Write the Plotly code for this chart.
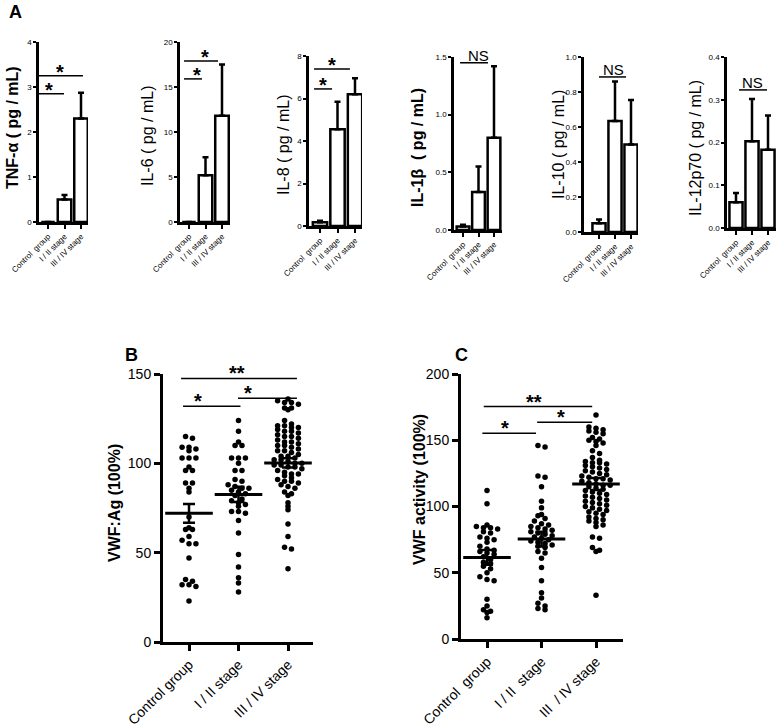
import plotly.graph_objects as go

W, H = 776, 728
FONT = "Arial, Liberation Sans, sans-serif"

# ---- panel A: cytokines, bar = mean, error = upper error only
groups_a = ["Control  group", "I / II stage", "III / IV stage"]
cyto_titles = ["TNF-α ( pg / mL)", "IL-6 ( pg / mL)", "IL-8 ( pg / mL)",
               "IL-1β  ( pg / mL)", "IL-10 ( pg / mL)", "IL-12p70 ( pg / mL)"]
cyto_bold = [True, False, False, True, False, False]
tnf_mean = [0, 0.5, 2.3]
tnf_err = [0, 0.1, 0.57]
il6_mean = [0, 5.2, 11.8]
il6_err = [0, 2.0, 5.7]
il8_mean = [0.18, 4.55, 6.2]
il8_err = [0.07, 1.3, 0.75]
il1b_mean = [0.03, 0.33, 0.8]
il1b_err = [0.015, 0.22, 0.62]
il10_mean = [0.05, 0.635, 0.5]
il10_err = [0.022, 0.225, 0.255]
il12_mean = [0.06, 0.203, 0.183]
il12_err = [0.022, 0.099, 0.08]
cyto_ticks = [[0, 1, 2, 3, 4], [0, 5, 10, 15, 20], [0, 2, 4, 6, 8],
              [0.0, 0.5, 1.0, 1.5], [0.0, 0.2, 0.4, 0.6, 0.8, 1.0],
              [0.0, 0.1, 0.2, 0.3, 0.4]]
cyto_ticktext = [["0", "1", "2", "3", "4"], ["0", "5", "10", "15", "20"],
                 ["0", "2", "4", "6", "8"], ["0.0", "0.5", "1.0", "1.5"],
                 ["0.0", "0.2", "0.4", "0.6", "0.8", "1.0"],
                 ["0.0", "0.1", "0.2", "0.3", "0.4"]]
# significance brackets: (x0, x1, y, label, label x)
cyto_sig = [
    [(-0.55, 0.97, 2.85, "*", 0.06), (-0.55, 2.12, 3.25, "*", 0.73)],
    [(-0.3, 0.79, 15.9, "*", 0.48), (-0.3, 1.76, 17.9, "*", 0.97)],
    [(-0.34, 0.69, 6.45, "*", 0.17), (-0.34, 1.71, 7.39, "*", 0.69)],
    [(-0.19, 1.61, 1.45, "NS", 0.97)],
    [(0.0, 1.69, 0.886, "NS", 0.88)],
    [(0.19, 1.94, 0.323, "NS", 1.06)],
]

# ---- panel B: VWF:Ag
groups_b = ["Control group", "I / II stage", "III / IV stage"]
vwf_ag_ctrl = [115, 114, 109, 109, 108, 107, 103, 103, 103, 98, 96, 96, 89, 89,
               86, 84, 70, 64, 63, 63, 59, 57, 55, 55, 47, 35, 34, 32, 32, 31, 23]
vwf_ag_early = [124, 118, 112, 110, 110, 103, 103, 103, 100, 96, 96, 91, 90, 88,
                87, 86, 86, 85, 84, 83, 82, 80, 79, 78, 77, 76, 73, 73, 72, 68,
                61, 49, 42, 36, 33, 28]
vwf_ag_late = [136, 135, 134, 134, 133, 131, 131, 130, 124, 122, 121, 121, 120,
               120, 119, 118, 118, 117, 116, 115, 115, 114, 113, 112, 112, 111,
               110, 110, 109, 108, 107, 107, 106, 105, 104, 104, 103, 102, 102,
               101, 100, 100, 99, 99, 98, 98, 97, 96, 95, 94, 94, 93, 92, 91, 90,
               90, 89, 88, 87, 86, 84, 83, 82, 78, 76, 74, 66, 59, 53, 52, 41]
vwf_ag_mean = [72, 82.6, 100.2]
vwf_ag_sem = [5.3, 4.3, 2.6]
vwf_ag_sig = [(-0.12, 1.04, 132, "*", 0.19), (0.99, 2.18, 136.4, "*", 1.19),
              (-0.16, 2.18, 147.5, "**", 0.97)]

# ---- panel C: VWF activity
groups_c = ["Control  group", "I / II  stage", "III  / IV stage"]
vwf_act_ctrl = [112, 102, 86, 85, 84, 84, 83, 81, 80, 77, 76, 75, 73, 70, 68, 67,
                66, 65, 64, 62, 60, 58, 57, 55, 53, 50, 47, 45, 44, 30, 25, 22,
                21, 20, 16]
vwf_act_early = [146, 145, 123, 122, 115, 104, 99, 94, 93, 91, 89, 87, 86, 85, 84,
                 83, 82, 81, 80, 79, 78, 77, 76, 75, 74, 73, 72, 71, 70, 69, 66,
                 65, 61, 54, 44, 35, 31, 27, 25, 23, 22]
vwf_act_late = [169, 160, 159, 158, 157, 156, 155, 152, 151, 150, 149, 148, 146,
                142, 140, 137, 135, 134, 133, 133, 132, 131, 130, 129, 128, 127,
                126, 125, 124, 123, 122, 121, 121, 120, 119, 118, 117, 116, 116,
                115, 114, 113, 112, 111, 110, 109, 108, 107, 106, 105, 104, 103,
                102, 101, 100, 99, 98, 97, 96, 95, 94, 92, 91, 90, 89, 88, 86, 85,
                77, 76, 69, 67, 66, 33]
vwf_act_mean = [61.6, 75.4, 117]
vwf_act_sem = [5.6, 5.5, 4.6]
vwf_act_sig = [(-0.085, 0.9, 155.3, "*", 0.33), (0.92, 1.93, 163.6, "*", 1.36),
               (-0.06, 1.93, 175.4, "**", 0.86)]

# pixel frames: left, first tick, tick step, right, top, bottom
frames = [
    (39, 48, 16.5, 88, 42, 222),
    (180, 189, 16.5, 230, 42, 222),
    (309, 320, 17.5, 362, 56, 226),
    (454, 463, 15.5, 502, 57, 230),
    (584, 599, 16, 638, 57, 232),
    (727, 736, 16, 776, 57, 228),
    (163, 189, 49.5, 313, 374, 642),
    (461, 487, 54.5, 623, 374, 639),
]
yranges = [[0, 4], [0, 20], [0, 8], [0, 1.5], [0, 1], [0, 0.4], [0, 150], [0, 200]]


def swarm(vals, bin_h, step):
    # spread points of similar value side by side, centred on the group
    bins = {}
    for v in vals:
        bins.setdefault(round(v / bin_h), []).append(v)
    xs, ys = [], []
    for b in sorted(bins):
        row = bins[b]
        n = len(row)
        for i, v in enumerate(row):
            xs.append((i - (n - 1) / 2) * step)
            ys.append(v)
    return xs, ys


def paper_text(text, px, py, size, angle=0):
    return dict(xref="paper", yref="paper", x=px / W, y=1 - py / H, text=text,
                textangle=angle, showarrow=False, xanchor="center", yanchor="middle",
                font=dict(family=FONT, size=size, color="black"))


fig = go.Figure()
layout = {}
annots = []
shapes = []

for i, (l, t0, st, r, top, bot) in enumerate(frames):
    k = "" if i == 0 else str(i + 1)
    big = i >= 6
    layout["xaxis" + k] = dict(
        domain=[l / W, r / W], range=[(l - t0) / st, (r - t0) / st],
        anchor="y" + k, tickvals=[0, 1, 2],
        ticktext=(groups_b if i == 6 else groups_c) if big else groups_a,
        tickangle=-45, showline=True, linecolor="black", automargin=False,
        linewidth=3 if big else 2.5, ticks="outside", ticklen=6 if big else 4,
        tickwidth=2.5 if big else 2, tickcolor="black", showgrid=False,
        zeroline=False, fixedrange=True,
        tickfont=dict(family=FONT, size=14 if big else 8, color="black"))
    layout["yaxis" + k] = dict(
        domain=[1 - bot / H, 1 - top / H], range=yranges[i], anchor="x" + k,
        showline=True, linecolor="black", linewidth=3 if big else 2.5,
        ticks="outside", ticklen=6 if big else 3, tickwidth=2.5 if big else 1.5,
        tickcolor="black", showgrid=False, zeroline=False, automargin=False,
        fixedrange=True,
        tickvals=[0, 50, 100, 150] if i == 6 else ([0, 50, 100, 150, 200] if i == 7 else cyto_ticks[i]),
        ticktext=None if big else cyto_ticktext[i],
        tickfont=dict(family=FONT, size=14 if big else 8, color="black"))

bars = [(tnf_mean, tnf_err), (il6_mean, il6_err), (il8_mean, il8_err),
        (il1b_mean, il1b_err), (il10_mean, il10_err), (il12_mean, il12_err)]
title_pos = [(12, 128), (147, 136), (284, 145), (418, 148), (559, 145), (696, 148)]

for i, (m, e) in enumerate(bars):
    k = "" if i == 0 else str(i + 1)
    fig.add_trace(go.Bar(
        x=[0, 1, 2], y=m, width=0.82, xaxis="x" + k, yaxis="y" + k,
        marker=dict(color="white", line=dict(color="black", width=2.5)),
        error_y=dict(type="data", symmetric=False, array=e, arrayminus=[0, 0, 0],
                     thickness=2.5, width=3, color="black"),
        showlegend=False, hoverinfo="skip"))
    for x0, x1, y, lab, lx in cyto_sig[i]:
        shapes.append(dict(type="line", xref="x" + k, yref="y" + k,
                           x0=x0, x1=x1, y0=y, y1=y,
                           line=dict(color="black", width=1.5)))
        if lab == "*":
            annots.append(dict(xref="x" + k, yref="y" + k, x=lx, y=y, text="<b>*</b>",
                               showarrow=False, yanchor="middle", yshift=4,
                               font=dict(family=FONT, size=20, color="black")))
        else:
            annots.append(dict(xref="x" + k, yref="y" + k, x=lx, y=y, text=lab,
                               showarrow=False, yanchor="bottom", yshift=-3,
                               font=dict(family=FONT, size=15, color="black")))
    tx, ty = title_pos[i]
    t = "<b>%s</b>" % cyto_titles[i] if cyto_bold[i] else cyto_titles[i]
    annots.append(paper_text(t, tx, ty, 16, -90))

dots = [
    ("7", [vwf_ag_ctrl, vwf_ag_early, vwf_ag_late], vwf_ag_mean, vwf_ag_sem, vwf_ag_sig, 2.8, 0.14),
    ("8", [vwf_act_ctrl, vwf_act_early, vwf_act_late], vwf_act_mean, vwf_act_sem, vwf_act_sig, 3.8, 0.13),
]
for k, grp, m, s, sig, bh, stp in dots:
    for g, vals in enumerate(grp):
        xs, ys = swarm(vals, bh, stp)
        fig.add_trace(go.Scatter(
            x=[g + x for x in xs], y=ys, mode="markers", xaxis="x" + k, yaxis="y" + k,
            marker=dict(color="black", size=5.5), showlegend=False, cliponaxis=False,
            hoverinfo="skip"))
    fig.add_trace(go.Scatter(
        x=[0, 1, 2], y=m, mode="markers", xaxis="x" + k, yaxis="y" + k,
        marker=dict(symbol="line-ew", size=34, color="black",
                    line=dict(color="black", width=3)),
        error_y=dict(type="data", array=s, thickness=2.5, width=6, color="black"),
        showlegend=False, cliponaxis=False, hoverinfo="skip"))
    for x0, x1, y, lab, lx in sig:
        shapes.append(dict(type="line", xref="x" + k, yref="y" + k,
                           x0=x0, x1=x1, y0=y, y1=y,
                           line=dict(color="black", width=1.5)))
        annots.append(dict(xref="x" + k, yref="y" + k, x=lx, y=y, text="<b>%s</b>" % lab,
                           showarrow=False, yanchor="middle", yshift=5,
                           font=dict(family=FONT, size=20, color="black")))

annots.append(paper_text("<b>VWF:Ag (100%)</b>", 114, 503, 16, -90))
annots.append(paper_text("<b>VWF activity (100%)</b>", 419, 490, 16, -90))
for lab, px, py in [("A", 15, 12), ("B", 131, 355), ("C", 461, 355)]:
    annots.append(paper_text("<b>%s</b>" % lab, px, py, 18))

fig.update_layout(
    width=W, height=H, margin=dict(l=0, r=0, t=0, b=0, autoexpand=False),
    paper_bgcolor="white", plot_bgcolor="white", bargap=0.15,
    annotations=annots, shapes=shapes, **layout)

# page body default margin would shift the figure by 8px
fig.write_html("out.html", config={"displayModeBar": False},
               post_script="document.body.style.margin='0';")
